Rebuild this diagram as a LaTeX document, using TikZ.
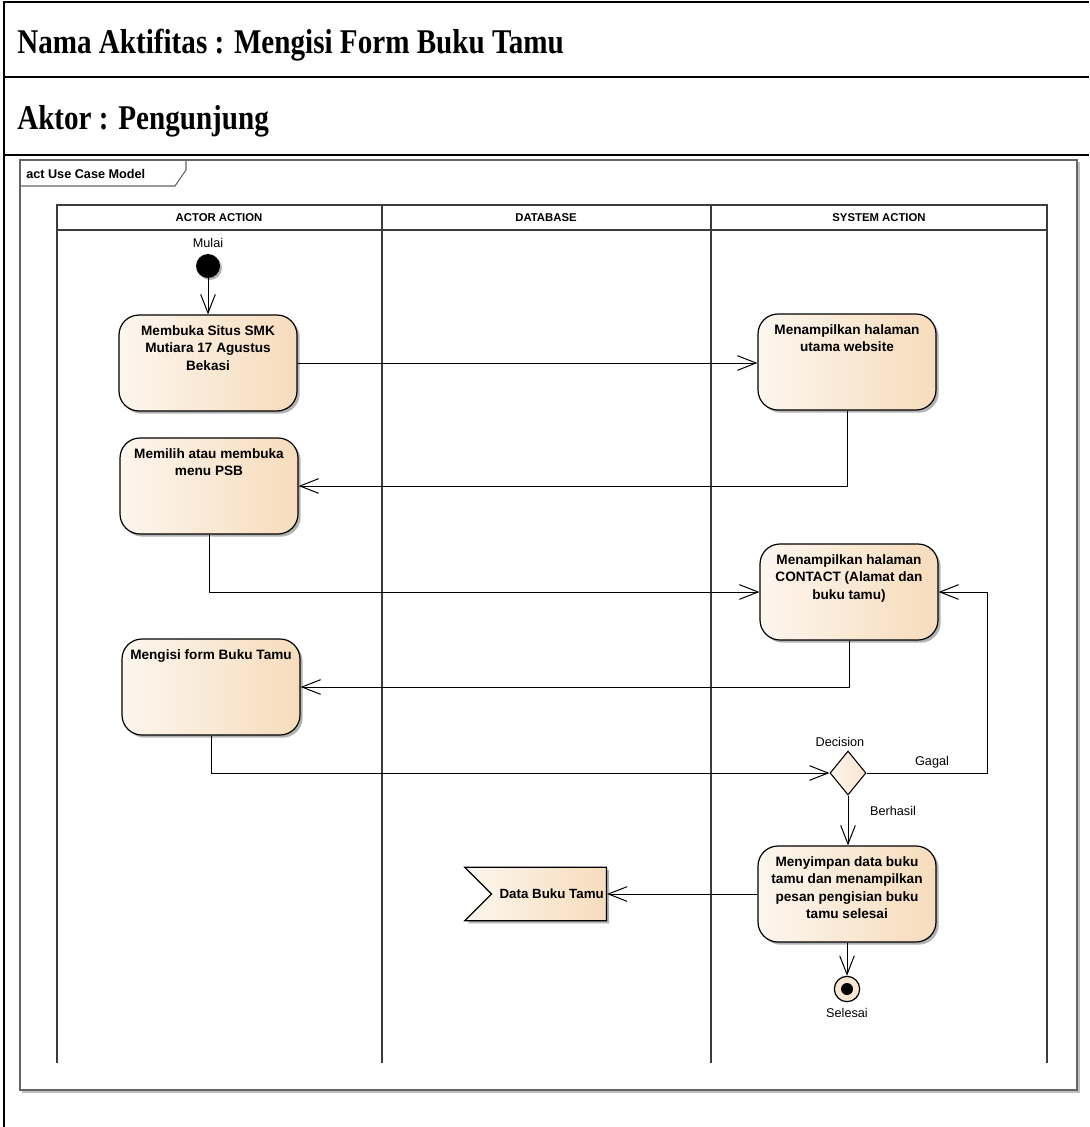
\documentclass[tikz,border=0pt]{standalone}
\usepackage{fontspec}
\setmainfont{Liberation Serif}
\setsansfont{Liberation Sans}
\usetikzlibrary{shapes.geometric, shapes.symbols, arrows.meta, positioning, calc, shadows}

\definecolor{actleft}{RGB}{252, 246, 238}
\definecolor{actright}{RGB}{246, 220, 188}
\definecolor{laneline}{RGB}{60, 60, 60}
\definecolor{framegray}{RGB}{100, 100, 100}

\tikzset{
  actbox/.style={draw, rounded corners=15pt, left color=actleft, right color=actright, line width=0.9pt,
    inner xsep=5pt, inner ysep=8pt, drop shadow={shadow xshift=2pt, shadow yshift=-2pt, opacity=0.3, fill=black}},
  startnode/.style={circle, fill=black, minimum size=18pt, inner sep=0pt,
    drop shadow={shadow xshift=1.5pt, shadow yshift=-1.5pt, opacity=0.3, fill=black}},
  finalnode/.style={circle, draw, line width=0.9pt, fill=actleft!40!actright, minimum size=19pt, inner sep=0pt,
    path picture={\fill[black] (path picture bounding box.center) circle (4.5pt);}},
  decisionnode/.style={diamond, draw, line width=0.8pt, left color=actleft, right color=actright!70!actleft,
    minimum width=27pt, minimum height=33pt, inner sep=0pt},
  datasignal/.style={signal, signal from=west, signal to=nowhere, signal pointer angle=90, draw, line width=0.9pt,
    left color=actleft, right color=actright, minimum width=100pt, minimum height=40pt, inner xsep=2pt,
    font=\fontsize{10}{12}\selectfont\bfseries\sffamily,
    drop shadow={shadow xshift=2pt, shadow yshift=-2pt, opacity=0.3, fill=black}},
  flow/.style={-{Straight Barb[length=14pt, width=11pt]}, line width=0.75pt},
  labeltext/.style={font=\fontsize{9.5}{11}\selectfont\sffamily},
  lanelabel/.style={font=\fontsize{8.5}{10}\selectfont\bfseries\sffamily},
  titletext/.style={anchor=west, inner sep=0pt, font=\fontsize{26}{30}\selectfont\bfseries}
}
\newcommand{\acttext}[1]{\parbox[t][56pt][t]{123.5pt}{\centering\fontsize{10.2}{13}\selectfont\bfseries\sffamily #1}}

\begin{document}
\begin{tikzpicture}[x=0.75pt, y=-0.75pt]
  \useasboundingbox (0,0) rectangle (1089,1127);

  % title block
  \draw[line width=1.1pt] (4,1127) -- (4,2) -- (1089,2);
  \draw[line width=1.1pt] (4,77) -- (1089,77);
  \draw[line width=1.1pt] (4,155) -- (1089,155);
  \node[titletext] (title) at (17,45) {\scalebox{0.84}[1]{Nama Aktifitas : Mengisi Form Buku Tamu}};
  \node[titletext] (actor) at (17,121) {\scalebox{0.84}[1]{Aktor : Pengunjung}};

  % frame
  \draw[framegray, line width=1pt] (20,160) rectangle (1077,1090);
  \draw[black!25, line width=1pt] (22,1092) -- (1079,1092) -- (1079,162);
  \draw[framegray, line width=0.8pt] (20,186) -- (175,186) -- (186,170) -- (186,160);
  \node[anchor=west, inner sep=0pt, font=\fontsize{9.5}{11}\selectfont\bfseries\sffamily] (frametab) at (26,174) {act Use Case Model};

  % swimlanes
  \draw[laneline, line width=1.1pt] (57,205) rectangle (1047,230);
  \foreach \x in {57,382,711,1047}
    \draw[laneline, line width=1.1pt] (\x,205) -- (\x,1063);
  \node[lanelabel] (hdactor) at (219,218) {ACTOR ACTION};
  \node[lanelabel] (hddb) at (546,218) {DATABASE};
  \node[lanelabel] (hdsys) at (879,218) {SYSTEM ACTION};

  % activities
  \node[startnode, label={[labeltext, label distance=1pt]above:Mulai}] (start) at (208,266) {};
  \node[actbox] (act1) at (208,363) {\acttext{Membuka Situs SMK\\Mutiara 17 Agustus\\Bekasi}};
  \node[actbox] (act2) at (847,362) {\acttext{Menampilkan halaman\\utama website}};
  \node[actbox] (act3) at (209,486) {\acttext{Memilih atau membuka\\menu PSB}};
  \node[actbox] (act4) at (849,592) {\acttext{Menampilkan halaman\\CONTACT (Alamat dan\\buku tamu)}};
  \node[actbox] (act5) at (211,687) {\acttext{Mengisi form Buku Tamu}};
  \node[decisionnode] (dec) at (848,773) {};
  \node[labeltext] (lbldec) at (840,742) {Decision};
  \node[actbox] (act6) at (847,894) {\acttext{Menyimpan data buku\\tamu dan menampilkan\\pesan pengisian buku\\tamu selesai}};
  \node[datasignal] (data) at (549,894) {\hspace*{4pt}Data Buku Tamu};
  \node[finalnode, label={[labeltext, label distance=1pt]below:Selesai}] (final) at (847,989) {};
  \coordinate (gagal) at (987,773);

  % flows
  \draw[flow] (start) -- (act1.north);
  \draw[flow] (act1.east) -- (act1.east -| act2.west);
  \draw[flow] (act2.south) |- (act3.east);
  \draw[flow] (act3.south) |- (act4.west);
  \draw[flow] (act4.south) |- (act5.east);
  \draw[flow] (act5.south) |- (dec.west);
  \draw[flow] (dec.east) -- (gagal) |- (act4.east);
  \node[labeltext] (lblgagal) at (932,762) {Gagal};
  \draw[flow] (dec.south) -- (dec.south |- act6.north);
  \node[labeltext] (lblok) at (893,811) {Berhasil};
  \draw[flow] (act6.west) -- (data.east);
  \draw[flow] (act6.south) -- (final.north);
\end{tikzpicture}
\end{document}
